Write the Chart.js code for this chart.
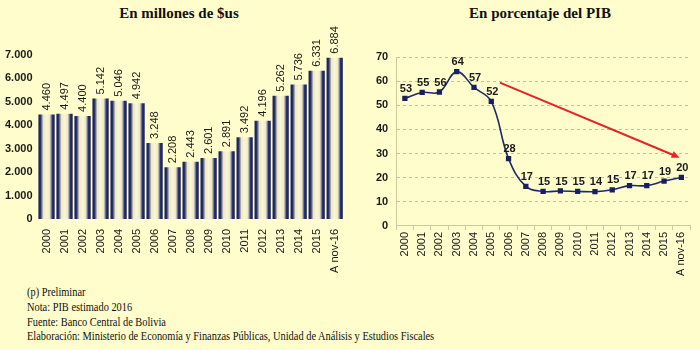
<!DOCTYPE html>
<html lang="es">
<head>
<meta charset="UTF-8">
<title>deuda</title>
<script src="https://cdn.jsdelivr.net/npm/chart.js"></script>
<style>
  body { margin: 0; background: #fffdcc; }
  .lienzo { position: relative; width: 700px; height: 350px; background: #fffdcc; overflow: hidden; }
  .titulo { position: absolute; top: 5px; font-family: "Liberation Serif", serif; font-weight: bold; font-size: 15px; color: #111; white-space: nowrap; transform: translateX(-50%); }
  #izq { position: absolute; left: 0; top: 0; }
  #der { position: absolute; left: 350px; top: 0; }
  .nota { position: absolute; left: 27px; top: 285px; font-family: "Liberation Serif", serif; font-size: 12.5px; color: #111; line-height: 14.8px; transform-origin: left top; transform: scaleX(0.83); white-space: nowrap; }
</style>
</head>
<body>
<div class="lienzo">
  <div class="titulo" style="left:179px">En millones de $us</div>
  <div class="titulo" style="left:540px">En porcentaje del PIB</div>
  <canvas id="izq" width="350" height="280"></canvas>
  <canvas id="der" width="350" height="280"></canvas>
  <div class="nota">
    (p) Preliminar<br>
    Nota: PIB estimado 2016<br>
    Fuente: Banco Central de Bolivia<br>
    Elaboración: Ministerio de Economía y Finanzas Públicas, Unidad de Análisis y Estudios Fiscales
  </div>
</div>

<script>
  // datos
  const anios = ['2000','2001','2002','2003','2004','2005','2006','2007','2008','2009','2010','2011','2012','2013','2014','2015','A nov-16'];
  const millones = [4460, 4497, 4400, 5142, 5046, 4942, 3248, 2208, 2443, 2601, 2891, 3492, 4196, 5262, 5736, 6331, 6884];
  const porcentajePIB = [52.9, 55.3, 55.5, 63.9, 57.4, 51.6, 27.9, 16.4, 14.3, 14.5, 14.3, 14.2, 15.0, 16.7, 16.7, 18.6, 20.1];
  const etiquetasPIB = [53, 55, 56, 64, 57, 52, 28, 17, 15, 15, 15, 14, 15, 17, 17, 19, 20];
  // flecha roja (indice de categoria, valor)
  const flechaInicio = [5.5, 59.4];
  const flechaFin = [15.9, 28.3];

  const navy = '#18205e';
  Chart.defaults.font.family = 'Arial, "Liberation Sans", sans-serif';
  Chart.defaults.color = '#1a1a1a';
  Chart.defaults.animation = false;

  function miles(n) {
    if (n < 1000) return String(n);
    return Math.floor(n / 1000) + '.' + String(n % 1000).padStart(3, '0');
  }

  // barras tipo cilindro
  const cilindro = {
    id: 'cilindro',
    beforeDatasetsDraw(chart) {
      const ctx = chart.ctx;
      chart.getDatasetMeta(0).data.forEach(el => {
        const x0 = el.x - el.width / 2, x1 = el.x + el.width / 2;
        const g = ctx.createLinearGradient(x0, 0, x1, 0);
        g.addColorStop(0, '#121a55');
        g.addColorStop(0.14, '#2a3370');
        g.addColorStop(0.3, '#eee8c2');
        g.addColorStop(0.5, '#faf6d8');
        g.addColorStop(0.7, '#eee8c2');
        g.addColorStop(0.86, '#2a3370');
        g.addColorStop(1, '#121a55');
        el.options = Object.assign({}, el.options, { backgroundColor: g });
      });
    },
    afterDatasetsDraw(chart) {
      const ctx = chart.ctx;
      ctx.save();
      ctx.fillStyle = '#1a1a1a';
      ctx.font = '11px Arial, "Liberation Sans", sans-serif';
      ctx.textAlign = 'left';
      ctx.textBaseline = 'middle';
      chart.getDatasetMeta(0).data.forEach((el, i) => {
        ctx.save();
        ctx.translate(el.x + 0.5, el.y - 4);
        ctx.rotate(-Math.PI / 2);
        ctx.fillText(miles(millones[i]), 0, 0);
        ctx.restore();
      });
      ctx.restore();
    }
  };

  new Chart(document.getElementById('izq'), {
    type: 'bar',
    data: {
      labels: anios,
      datasets: [{ data: millones, backgroundColor: navy, borderWidth: 0, barPercentage: 0.9, categoryPercentage: 1 }]
    },
    options: {
      responsive: false,
      layout: { padding: { top: 55, left: 0, right: 4, bottom: 5 } },
      plugins: { legend: { display: false }, tooltip: { enabled: false } },
      scales: {
        x: {
          grid: { display: false },
          border: { display: false },
          ticks: { minRotation: 90, maxRotation: 90, font: { size: 11 }, padding: 2 }
        },
        y: {
          min: 0, max: 7000,
          grid: { display: false, drawTicks: false },
          border: { display: false },
          ticks: { stepSize: 1000, font: { size: 11, weight: 'bold' }, padding: 5, callback: v => miles(v) }
        }
      }
    },
    plugins: [cilindro]
  });

  // etiquetas y flecha del grafico de linea
  const extras = {
    id: 'extras',
    afterDatasetsDraw(chart) {
      const ctx = chart.ctx;
      const x = chart.scales.x, y = chart.scales.y;
      ctx.save();
      ctx.fillStyle = '#1a1a1a';
      ctx.font = 'bold 11px Arial, "Liberation Sans", sans-serif';
      ctx.textAlign = 'center';
      ctx.textBaseline = 'bottom';
      chart.getDatasetMeta(0).data.forEach((p, i) => {
        ctx.fillText(String(etiquetasPIB[i]), p.x + 1, p.y - 4);
      });
      const ax = x.getPixelForValue(flechaInicio[0]), ay = y.getPixelForValue(flechaInicio[1]);
      const bx = x.getPixelForValue(flechaFin[0]), by = y.getPixelForValue(flechaFin[1]);
      const ang = Math.atan2(by - ay, bx - ax);
      ctx.strokeStyle = '#e8222a';
      ctx.fillStyle = '#e8222a';
      ctx.lineWidth = 2;
      ctx.beginPath();
      ctx.moveTo(ax, ay);
      ctx.lineTo(bx - 5 * Math.cos(ang), by - 5 * Math.sin(ang));
      ctx.stroke();
      ctx.beginPath();
      ctx.moveTo(bx, by);
      ctx.lineTo(bx - 8 * Math.cos(ang) + 3.5 * Math.sin(ang), by - 8 * Math.sin(ang) - 3.5 * Math.cos(ang));
      ctx.lineTo(bx - 8 * Math.cos(ang) - 3.5 * Math.sin(ang), by - 8 * Math.sin(ang) + 3.5 * Math.cos(ang));
      ctx.closePath();
      ctx.fill();
      ctx.restore();
    }
  };

  new Chart(document.getElementById('der'), {
    type: 'line',
    data: {
      labels: anios,
      datasets: [{
        data: porcentajePIB,
        borderColor: '#1f2a6b',
        borderWidth: 1.6,
        tension: 0.4,
        pointStyle: 'rect',
        pointRadius: 2.6,
        pointBackgroundColor: navy,
        pointBorderColor: navy
      }]
    },
    options: {
      responsive: false,
      layout: { padding: { top: 57, left: 18, right: 10, bottom: 2 } },
      plugins: { legend: { display: false }, tooltip: { enabled: false } },
      scales: {
        x: {
          offset: true,
          grid: { offset: true, drawOnChartArea: false, drawTicks: true, tickLength: 4, color: '#cfc89c' },
          border: { color: '#cfc89c' },
          ticks: { minRotation: 90, maxRotation: 90, font: { size: 11 }, padding: 2 }
        },
        y: {
          min: 0, max: 70,
          grid: { color: '#c9c196', drawTicks: false },
          border: { color: '#cfc89c', dash: [3, 3] },
          ticks: { stepSize: 10, font: { size: 11, weight: 'bold' }, padding: 8 }
        }
      }
    },
    plugins: [extras]
  });
</script>
</body>
</html>
